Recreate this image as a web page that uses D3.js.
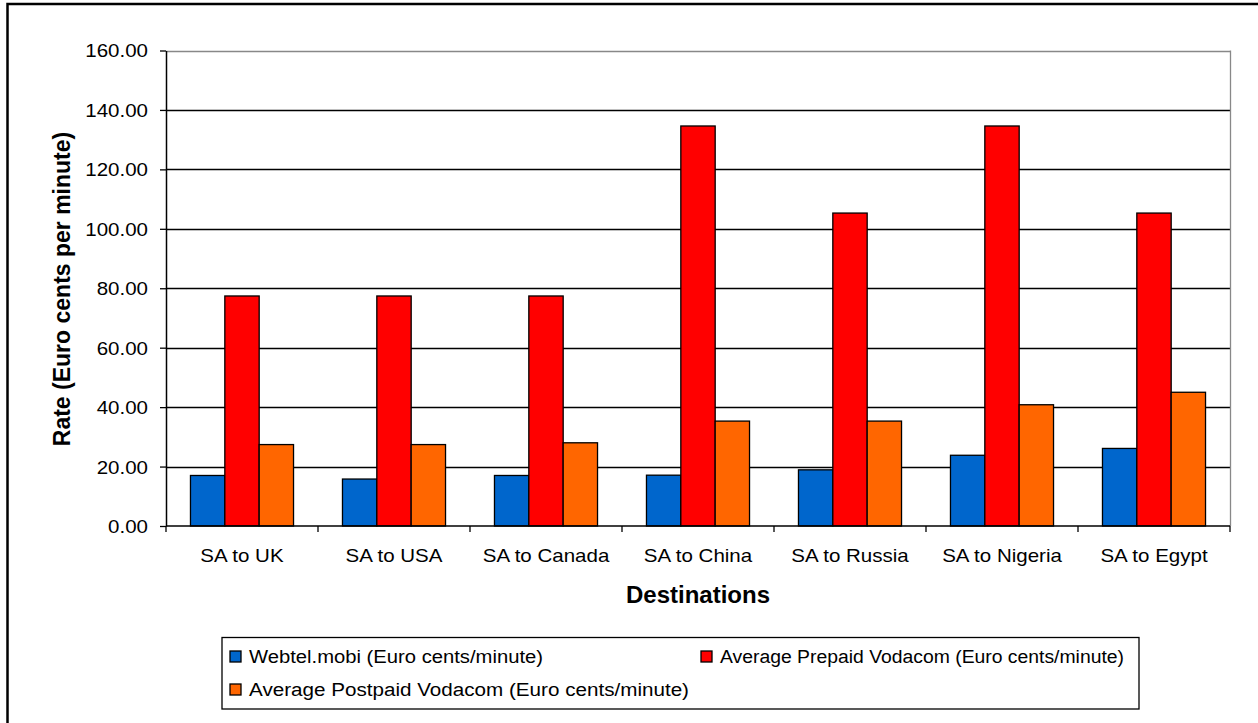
<!DOCTYPE html>
<html><head><meta charset="utf-8">
<script src="https://cdn.jsdelivr.net/npm/d3@7"></script>
<style>body{margin:0;background:#fff;}svg{display:block;font-family:"Liberation Sans",Arial,sans-serif;}</style>
</head><body>
<script>
const categories = ["SA to UK","SA to USA","SA to Canada","SA to China","SA to Russia","SA to Nigeria","SA to Egypt"];
const seriesNames = ["Webtel.mobi (Euro cents/minute)","Average Prepaid Vodacom (Euro cents/minute)","Average Postpaid Vodacom (Euro cents/minute)"];
const webtel = [17.0, 15.8, 17.0, 17.1, 18.9, 23.8, 26.1];
const prepaid = [77.4, 77.4, 77.4, 134.6, 105.3, 134.6, 105.3];
const postpaid = [27.4, 27.4, 28.0, 35.3, 35.3, 40.8, 45.0];
const colors = ["#0066cc","#ff0000","#ff6600"];
const yTicks = [0,20,40,60,80,100,120,140,160];

const W=1258,H=723;
const SX=1.14, FS=18;
const svg=d3.select("body").append("svg").attr("width",W).attr("height",H);
const L=166,R=1230,T=50.5,B=526;
const x=d3.scaleBand().domain(categories).range([L,R]);
const y=d3.scaleLinear().domain([0,160]).range([B,T]);
const series=[webtel,prepaid,postpaid];
const barW=x.bandwidth()*0.226;
const groupOff=(x.bandwidth()-3*barW)/2;

// outer frame
svg.append("path").attr("d",`M7.5,${H}V4H${W}`).attr("fill","none").attr("stroke","#000").attr("stroke-width",2.5);

// gridlines
svg.append("g").selectAll("line").data(yTicks.filter(d=>d>0)).join("line")
 .attr("x1",L).attr("x2",R).attr("y1",d=>Math.round(y(d))+0.5).attr("y2",d=>Math.round(y(d))+0.5)
 .attr("stroke",d=>d===160?"#888":"#000").attr("stroke-width",1.3);
svg.append("line").attr("x1",R+0.5).attr("x2",R+0.5).attr("y1",T).attr("y2",B).attr("stroke","#888").attr("stroke-width",1.3);

// bars
series.forEach((vals,si)=>{
 svg.append("g").selectAll("rect").data(vals).join("rect")
  .attr("x",(d,i)=>x(categories[i])+groupOff+si*barW)
  .attr("y",d=>y(d)).attr("width",barW).attr("height",d=>y(0)-y(d))
  .attr("fill",colors[si]).attr("stroke","#000").attr("stroke-width",1.3);
});

// y axis
const ya=d3.axisLeft(y).tickValues(yTicks).tickFormat(d3.format(".2f")).tickSize(6).tickSizeOuter(0);
const yg=svg.append("g").attr("transform",`translate(${L},0)`).call(ya);
yg.select(".domain").attr("stroke","#000").attr("stroke-width",1.5);
yg.selectAll(".tick line").attr("stroke","#000").attr("stroke-width",1.3);
yg.selectAll(".tick text").attr("font-size",FS).attr("fill","#000")
  .attr("transform",`scale(${SX},1)`).attr("x",-18/SX).attr("dy","0.36em");

// x axis
const xg=svg.append("g").attr("transform",`translate(0,${B})`);
xg.append("line").attr("x1",L).attr("x2",R).attr("y1",0).attr("y2",0).attr("stroke","#000").attr("stroke-width",1.5);
const bounds=categories.map(c=>x(c)).concat([R]);
xg.selectAll("line.t").data(bounds).join("line").attr("class","t")
 .attr("x1",d=>d).attr("x2",d=>d).attr("y1",0).attr("y2",6).attr("stroke","#000").attr("stroke-width",1.3);
xg.selectAll("text").data(categories).join("text")
 .attr("transform",d=>`translate(${x(d)+x.bandwidth()/2},36) scale(${SX},1)`).attr("text-anchor","middle")
 .attr("font-size",FS).attr("fill","#000").text(d=>d);

// axis titles
svg.append("text").attr("transform",`translate(70,289) rotate(-90)`).attr("text-anchor","middle")
 .attr("font-size",23).attr("font-weight","bold").text("Rate (Euro cents per minute)");
svg.append("text").attr("x",698).attr("y",603).attr("text-anchor","middle")
 .attr("font-size",24).attr("font-weight","bold").text("Destinations");

// legend
const lg=svg.append("g");
lg.append("rect").attr("x",222).attr("y",637.5).attr("width",917).attr("height",71.5)
 .attr("fill","#fff").attr("stroke","#000").attr("stroke-width",1.3);
const lpos=[[230,657,294],[701,657,404],[230,690,440]];
seriesNames.forEach((n,i)=>{
 const [lx,ly,tl]=lpos[i];
 lg.append("rect").attr("x",lx).attr("y",ly-6).attr("width",11).attr("height",11)
  .attr("fill",colors[i]).attr("stroke","#000").attr("stroke-width",1.3);
 lg.append("text").attr("x",lx+19).attr("y",ly+6)
  .attr("textLength",tl).attr("lengthAdjust","spacingAndGlyphs")
  .attr("font-size",FS).attr("fill","#000").text(n);
});
</script>
</body></html>
